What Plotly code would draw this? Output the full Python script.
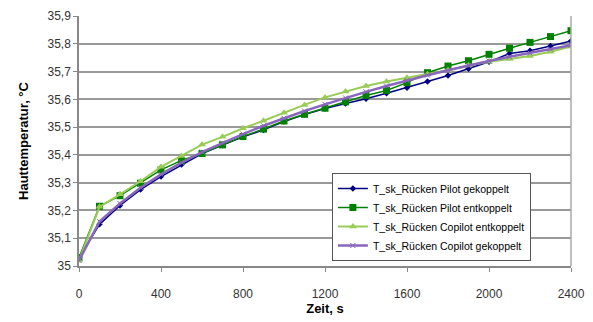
import plotly.graph_objects as go

zeit = list(range(0, 2500, 100))

pilot_gekoppelt = [35.03, 35.15, 35.218, 35.275, 35.322, 35.365, 35.405, 35.435, 35.465, 35.49,
                   35.52, 35.545, 35.567, 35.585, 35.602, 35.622, 35.642, 35.664, 35.686, 35.71,
                   35.735, 35.765, 35.775, 35.792, 35.81]
pilot_entkoppelt = [35.03, 35.215, 35.253, 35.298, 35.346, 35.38, 35.405, 35.436, 35.466, 35.493,
                    35.522, 35.546, 35.568, 35.591, 35.614, 35.632, 35.66, 35.696, 35.72, 35.739,
                    35.762, 35.784, 35.805, 35.826, 35.847]
copilot_entkoppelt = [35.02, 35.213, 35.258, 35.305, 35.357, 35.396, 35.437, 35.465, 35.496, 35.523,
                      35.552, 35.58, 35.607, 35.628, 35.648, 35.664, 35.678, 35.69, 35.705, 35.722,
                      35.735, 35.745, 35.756, 35.771, 35.79]
copilot_gekoppelt = [35.02, 35.16, 35.225, 35.282, 35.33, 35.372, 35.41, 35.443, 35.475, 35.505,
                     35.532, 35.558, 35.582, 35.605, 35.627, 35.648, 35.668, 35.687, 35.705, 35.722,
                     35.738, 35.753, 35.767, 35.781, 35.795]

names = ["T_sk_Rücken Pilot gekoppelt", "T_sk_Rücken Pilot entkoppelt",
         "T_sk_Rücken Copilot entkoppelt", "T_sk_Rücken Copilot gekoppelt"]

x_ticks = [0, 400, 800, 1200, 1600, 2000, 2400]
y_ticks = [35.0, 35.1, 35.2, 35.3, 35.4, 35.5, 35.6, 35.7, 35.8, 35.9]
y_ticktext = ["35", "35,1", "35,2", "35,3", "35,4", "35,5", "35,6", "35,7", "35,8", "35,9"]

fig = go.Figure()
fig.add_trace(go.Scatter(x=zeit, y=pilot_gekoppelt, name=names[0], mode="lines+markers",
                         line=dict(color="#000080", width=1.5),
                         marker=dict(symbol="diamond", size=5, color="#000080")))
fig.add_trace(go.Scatter(x=zeit, y=pilot_entkoppelt, name=names[1], mode="lines+markers",
                         line=dict(color="#008000", width=1.5),
                         marker=dict(symbol="square", size=7, color="#008000")))
fig.add_trace(go.Scatter(x=zeit, y=copilot_entkoppelt, name=names[2], mode="lines+markers",
                         line=dict(color="#99CC55", width=2),
                         marker=dict(symbol="triangle-up", size=7, color="#99CC55")))
fig.add_trace(go.Scatter(x=zeit, y=copilot_gekoppelt, name=names[3], mode="lines+markers",
                         line=dict(color="#8866BB", width=2.5),
                         marker=dict(symbol="x-thin", size=5, color="#8866BB",
                                     line=dict(color="#8866BB", width=1))))

fig.update_layout(
    width=593, height=322,
    margin=dict(l=79, r=22, t=16, b=56),
    paper_bgcolor="white", plot_bgcolor="white",
    font=dict(family="Liberation Sans, Arial, sans-serif", size=12, color="#333333"),
    showlegend=True,
    legend=dict(x=0.514, y=0.372, xanchor="left", yanchor="top",
                bgcolor="white", bordercolor="#555555", borderwidth=1,
                font=dict(size=10.5, color="#000000", family="Liberation Sans, Arial, sans-serif"),
                tracegroupgap=0, itemwidth=30),
    xaxis=dict(range=[0, 2400], tickvals=x_ticks, showgrid=False, automargin=False,
               showline=True, linecolor="#888888", linewidth=1.5, mirror=False,
               ticks="outside", ticklen=4, tickcolor="#888888", ticklabelstandoff=12,
               title=dict(text="<b>Zeit, s</b>", font=dict(size=13, color="#000000"), standoff=4),
               zeroline=False),
    yaxis=dict(range=[35.0, 35.9], tickvals=y_ticks, ticktext=y_ticktext, automargin=False,
               showgrid=True, gridcolor="#999999", gridwidth=1.5,
               showline=True, linecolor="#888888", linewidth=1.5,
               ticks="outside", ticklen=4, tickcolor="#888888",
               title=dict(text="<b>Hauttemperatur, °C</b>", font=dict(size=13, color="#000000"), standoff=16),
               zeroline=False),
)
# right border of plot area
fig.add_shape(type="line", xref="paper", yref="paper", x0=1, x1=1, y0=0, y1=1,
              line=dict(color="#AAAAAA", width=1.5))

fig.write_html("out.html")
